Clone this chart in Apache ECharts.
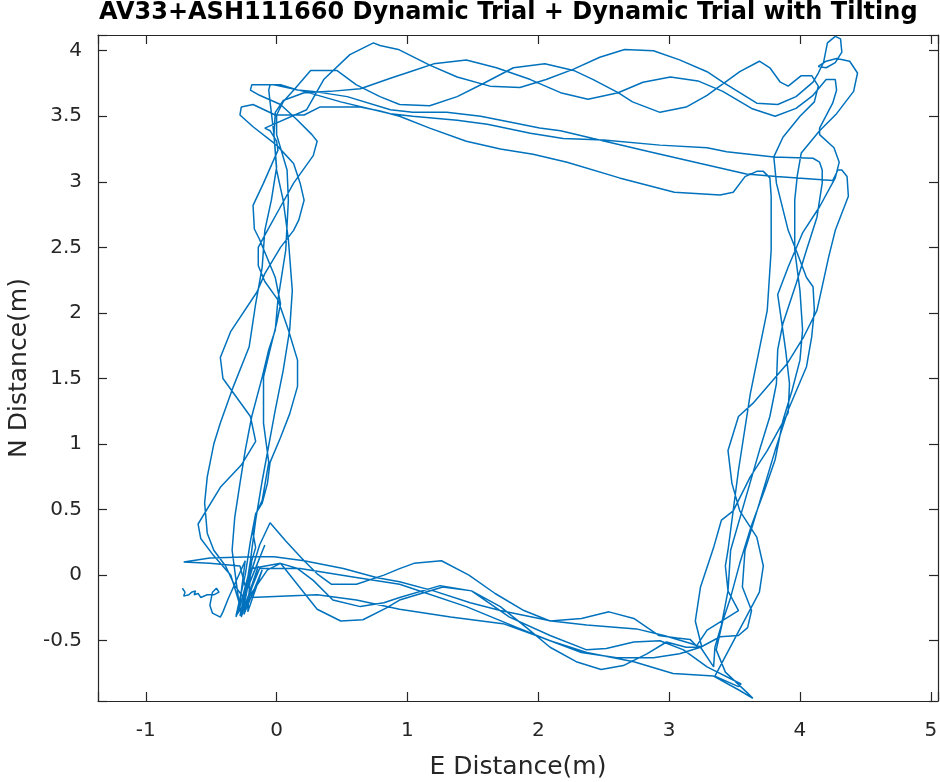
<!DOCTYPE html>
<html>
<head>
<meta charset="utf-8">
<script src="https://cdn.jsdelivr.net/npm/echarts@6/dist/echarts.min.js"></script>
<style>
html, body { margin: 0; padding: 0; background: #fff; }
#chart { width: 940px; height: 782px; }
</style>
</head>
<body>
<div id="chart"></div>
<script>
'use strict';

// trajectory as [E, N] in metres, one lap per array
const startPath = [[-0.72,-0.10],[-0.70,-0.13],[-0.71,-0.16],[-0.67,-0.15],[-0.65,-0.13],[-0.62,-0.12],[-0.63,-0.15],[-0.60,-0.14],[-0.58,-0.17],[-0.53,-0.15],[-0.48,-0.15],[-0.44,-0.13],[-0.46,-0.10],[-0.49,-0.13],[-0.51,-0.23],[-0.49,-0.29],[-0.43,-0.32],[-0.41,-0.28],[-0.37,-0.18],[-0.24,0.11],[-0.29,-0.28],[-0.19,0.10],[-0.27,-0.32],[-0.14,0.07],[-0.25,-0.30],[-0.11,0.04],[-0.22,-0.28],[-0.20,0.02],[-0.31,-0.32],[-0.16,0.13],[-0.26,-0.19],[-0.09,0.23],[-0.23,-0.12],[-0.28,0.07]];

const lap1 = [[-0.51,0.09],[-0.71,0.10],[-0.51,0.13],[-0.18,0.14],[-0.02,0.14],[0.21,0.11],[0.51,0.05],[0.77,-0.02],[0.94,-0.05],[1.20,-0.12],[1.48,-0.21],[1.71,-0.27],[2.10,-0.35],[2.37,-0.38],[2.75,-0.41],[2.96,-0.46],[3.16,-0.52],[3.25,-0.55],[3.20,-0.35],[3.24,-0.09],[3.34,0.21],[3.40,0.42],[3.49,0.49],[3.62,0.75],[3.75,0.95],[3.91,1.24],[3.92,1.46],[3.89,1.72],[3.85,2.00],[3.83,2.14],[3.91,2.35],[4.02,2.61],[4.15,2.81],[4.27,3.03],[4.30,3.15],[4.26,3.26],[4.15,3.36],[4.15,3.41],[4.25,3.60],[4.28,3.70],[4.27,3.78],[4.20,3.78],[4.10,3.66],[3.97,3.56],[3.81,3.50],[3.63,3.56],[3.41,3.69],[3.22,3.77],[3.01,3.80],[2.80,3.76],[2.61,3.68],[2.38,3.63],[2.17,3.68],[1.94,3.78],[1.68,3.87],[1.45,3.93],[1.20,3.90],[1.02,3.84],[0.87,3.79],[0.64,3.71],[0.41,3.69],[0.21,3.68],[0.05,3.62],[-0.01,3.53],[-0.02,3.36],[0.00,3.11],[-0.04,2.86],[-0.09,2.63],[-0.11,2.35],[-0.16,2.07],[-0.21,1.74],[-0.33,1.44],[-0.43,1.16],[-0.48,1.00],[-0.53,0.75],[-0.55,0.55],[-0.53,0.32],[-0.48,0.19],[-0.39,0.07],[-0.32,-0.08],[-0.24,-0.19]];

const lap2 = [[-0.21,-0.03],[-0.13,0.23],[-0.05,0.40],[0.07,0.26],[0.21,0.11],[0.31,0.01],[0.42,-0.07],[0.61,-0.07],[0.82,0.00],[0.94,0.05],[1.05,0.09],[1.26,0.11],[1.47,0.00],[1.67,-0.14],[1.89,-0.27],[2.09,-0.35],[2.33,-0.33],[2.54,-0.28],[2.73,-0.33],[2.92,-0.46],[3.06,-0.48],[3.16,-0.49],[3.21,-0.54],[3.29,-0.42],[3.53,-0.27],[3.45,-0.12],[3.43,0.07],[3.45,0.19],[3.53,0.80],[3.62,1.38],[3.75,2.02],[3.78,2.48],[3.78,2.89],[3.77,3.03],[3.72,3.08],[3.67,3.08],[3.58,3.04],[3.49,2.92],[3.39,2.90],[3.04,2.92],[2.62,3.03],[2.22,3.15],[1.96,3.21],[1.71,3.25],[1.45,3.31],[1.17,3.41],[0.94,3.50],[0.79,3.54],[0.64,3.57],[0.33,3.57],[0.21,3.51],[-0.01,3.51],[-0.18,3.59],[-0.27,3.57],[-0.28,3.51],[-0.18,3.42],[0.00,3.28],[0.13,3.14],[0.18,2.99],[0.21,2.86],[0.17,2.71],[0.13,2.63],[0.03,2.50],[-0.09,2.30],[-0.15,2.16],[-0.35,1.86],[-0.43,1.66],[-0.41,1.50],[-0.20,1.21],[-0.16,1.02],[-0.27,0.84],[-0.43,0.67],[-0.60,0.39],[-0.58,0.28],[-0.49,0.16],[-0.35,0.00],[-0.28,-0.23]];

const lap3 = [[-0.19,0.05],[0.03,0.09],[0.16,0.05],[0.28,-0.04],[0.43,-0.19],[0.64,-0.24],[0.82,-0.21],[0.94,-0.17],[1.25,-0.08],[1.49,-0.12],[1.71,-0.24],[1.91,-0.40],[2.09,-0.55],[2.29,-0.66],[2.48,-0.72],[2.65,-0.69],[2.83,-0.60],[2.98,-0.51],[3.13,-0.55],[3.24,-0.55],[3.39,-0.47],[3.53,-0.46],[3.60,-0.40],[3.63,-0.27],[3.56,-0.09],[3.58,0.19],[3.69,0.55],[3.81,0.95],[3.91,1.26],[4.05,1.59],[4.09,1.82],[4.11,2.02],[4.10,2.20],[4.05,2.27],[3.97,2.48],[3.91,2.63],[3.82,2.99],[3.80,3.19],[3.87,3.34],[4.00,3.50],[4.11,3.61],[4.14,3.73],[4.09,3.81],[4.01,3.81],[3.91,3.73],[3.85,3.76],[3.77,3.87],[3.69,3.92],[3.54,3.84],[3.29,3.66],[3.13,3.57],[2.93,3.53],[2.72,3.61],[2.61,3.68],[2.42,3.78],[2.27,3.85],[2.05,3.90],[1.81,3.87],[1.58,3.75],[1.38,3.65],[1.17,3.58],[0.94,3.59],[0.79,3.65],[0.61,3.74],[0.46,3.85],[0.26,3.85],[0.14,3.71],[0.05,3.61],[0.00,3.51],[0.00,3.36],[0.08,3.09],[0.09,2.86],[0.07,2.48],[0.01,2.10],[-0.01,1.87],[-0.06,1.72],[-0.11,1.51],[-0.19,1.21],[-0.24,0.95],[-0.28,0.70],[-0.32,0.44],[-0.34,0.19],[-0.31,-0.04],[-0.28,-0.27]];

const lap4 = [[-0.20,-0.17],[0.31,-0.15],[0.61,-0.19],[0.94,-0.26],[1.33,-0.32],[1.73,-0.37],[2.01,-0.47],[2.33,-0.59],[2.60,-0.63],[2.88,-0.63],[3.08,-0.60],[3.24,-0.55],[3.34,-0.70],[3.35,-0.55],[3.40,-0.38],[3.45,-0.12],[3.47,0.19],[3.58,0.57],[3.69,0.95],[3.77,1.21],[3.82,1.46],[3.83,1.72],[3.87,1.92],[3.97,2.22],[4.05,2.48],[4.13,2.73],[4.15,2.86],[4.17,2.99],[4.17,3.09],[4.15,3.15],[4.10,3.18],[3.80,3.19],[3.44,3.23],[3.29,3.26],[2.93,3.28],[2.50,3.32],[2.19,3.33],[1.94,3.37],[1.61,3.44],[1.38,3.47],[1.04,3.50],[0.87,3.52],[0.49,3.61],[0.21,3.69],[-0.02,3.74],[-0.19,3.74],[-0.20,3.70],[-0.13,3.66],[0.03,3.59],[0.16,3.47],[0.27,3.36],[0.31,3.31],[0.28,3.20],[0.13,2.99],[0.03,2.81],[-0.07,2.63],[-0.14,2.50],[-0.14,2.36],[-0.09,2.24],[0.01,2.10],[0.09,1.87],[0.16,1.64],[0.16,1.44],[0.10,1.23],[0.03,1.05],[-0.05,0.86],[-0.07,0.70],[-0.11,0.55],[-0.16,0.47],[-0.20,0.26],[-0.24,0.00],[-0.31,-0.31]];

const lap5 = [[-0.07,0.04],[0.03,0.09],[0.31,-0.26],[0.49,-0.35],[0.66,-0.34],[0.84,-0.25],[0.94,-0.19],[1.27,-0.09],[1.49,-0.12],[1.78,-0.32],[2.09,-0.46],[2.37,-0.57],[2.52,-0.56],[2.73,-0.51],[2.93,-0.50],[3.11,-0.57],[3.29,-0.70],[3.55,-0.83],[3.53,-0.85],[3.35,-0.77],[3.69,-0.13],[3.72,0.07],[3.67,0.29],[3.54,0.49],[3.48,0.70],[3.45,0.95],[3.53,1.21],[3.64,1.31],[3.77,1.46],[3.90,1.61],[4.03,1.82],[4.13,2.02],[4.22,2.43],[4.27,2.63],[4.37,2.89],[4.36,3.04],[4.32,3.09],[4.29,3.09],[4.25,3.01],[3.82,3.04],[3.59,3.06],[3.24,3.14],[2.85,3.23],[2.42,3.33],[2.17,3.39],[2.01,3.41],[1.81,3.45],[1.56,3.50],[1.30,3.53],[1.04,3.53],[0.87,3.55],[0.54,3.65],[0.28,3.69],[0.16,3.70],[0.03,3.74],[-0.05,3.74],[-0.06,3.70],[-0.05,3.61],[-0.02,3.36],[0.00,3.09],[0.05,2.86],[0.09,2.56],[0.12,2.17],[0.10,1.87],[0.05,1.56],[-0.01,1.26],[-0.06,0.99],[-0.11,0.72],[-0.16,0.42],[-0.20,0.11],[-0.26,-0.27]];

const lap6 = [[-0.13,0.05],[0.18,0.05],[0.56,-0.01],[0.94,-0.07],[1.45,-0.24],[1.84,-0.40],[2.09,-0.50],[2.37,-0.59],[2.73,-0.66],[3.03,-0.75],[3.34,-0.77],[3.54,-0.88],[3.64,-0.94],[3.60,-0.90],[3.43,-0.74],[3.36,-0.57],[3.41,-0.35],[3.47,-0.17],[3.54,0.09],[3.63,0.38],[3.73,0.65],[3.81,0.88],[3.87,1.18],[3.94,1.41],[4.00,1.64],[4.02,1.87],[4.00,2.17],[3.96,2.48],[3.96,2.86],[3.98,3.05],[4.01,3.22],[4.15,3.39],[4.28,3.52],[4.41,3.69],[4.44,3.83],[4.38,3.92],[4.28,3.94],[4.20,3.92],[4.14,3.88],[4.20,3.87],[4.27,3.91],[4.32,3.99],[4.31,4.09],[4.27,4.11],[4.21,4.06],[4.18,3.91],[4.14,3.83],[4.10,3.76],[3.97,3.65],[3.83,3.59],[3.67,3.60],[3.41,3.76],[3.29,3.84],[3.08,3.93],[2.88,4.00],[2.66,4.01],[2.47,3.95],[2.27,3.86],[2.06,3.78],[1.86,3.72],[1.63,3.73],[1.38,3.80],[1.17,3.89],[0.93,4.01],[0.79,4.04],[0.74,4.06],[0.56,3.97],[0.36,3.78],[0.23,3.55],[-0.09,3.41],[-0.05,3.39],[0.00,3.31],[0.01,3.24],[-0.10,2.99],[-0.18,2.82],[-0.17,2.64],[-0.13,2.56],[-0.01,2.27],[0.03,2.07],[0.00,1.92],[-0.05,1.72],[-0.10,1.51],[-0.10,1.16],[-0.06,0.86],[-0.11,0.57],[-0.16,0.46],[-0.18,0.32],[-0.16,0.21],[-0.19,0.11],[-0.24,-0.12],[-0.28,-0.31]];

// axis limits (matlab style box)
const xLim = [-1.365, 5.055];
const yLim = [-0.96, 4.12];

const chart = echarts.init(document.getElementById('chart'));

const path = [].concat(startPath, lap1, lap2, lap3, lap4, lap5, lap6);

const axisColor = '#262626';
const fontName = 'DejaVu Sans';

const xLabel = (v) => Math.abs(v - Math.round(v)) < 1e-6 ? String(Math.round(v)) : '';
const yLabel = (v) => Math.abs(v * 2 - Math.round(v * 2)) < 1e-6 ? String(Math.round(v * 10) / 10) : '';

// build one side of the box
function boxAxis(pos, lim, split, fmt, name) {
    const isMain = (pos === 'bottom' || pos === 'left');
    const hsh = {
        type: 'value',
        position: pos,
        min: lim[0],
        max: lim[1],
        splitNumber: split,
        axisLine: { show: true, onZero: false, lineStyle: { color: axisColor, width: 1.2 } },
        axisTick: { show: true, inside: true, length: 9, lineStyle: { color: axisColor, width: 1.2 } },
        splitLine: { show: false },
        axisLabel: { show: false }
    };
    if (isMain) {
        hsh.axisLabel = {
            show: true,
            formatter: fmt,
            margin: pos === 'bottom' ? 20 : 16,
            fontFamily: fontName,
            fontSize: 20,
            color: axisColor
        };
        hsh.name = name;
        hsh.nameLocation = 'middle';
        hsh.nameGap = pos === 'bottom' ? 54 : 62;
        hsh.nameTextStyle = { fontFamily: fontName, fontSize: 25, color: axisColor };
    }
    return hsh;
}

const option = {
    animation: false,
    title: {
        text: 'AV33+ASH111660 Dynamic Trial + Dynamic Trial with Tilting',
        left: 99,
        top: 1,
        padding: 0,
        textStyle: { fontFamily: fontName, fontWeight: 'bold', fontSize: 24, color: '#000' }
    },
    grid: {
        left: 98,
        right: 2,
        top: 35,
        bottom: 81,
        containLabel: false,
        outerBoundsMode: 'none'
    },
    xAxis: [
        boxAxis('bottom', xLim, 6, xLabel, 'E Distance(m)'),
        boxAxis('top', xLim, 6, xLabel)
    ],
    yAxis: [
        boxAxis('left', yLim, 10, yLabel, 'N Distance(m)'),
        boxAxis('right', yLim, 10, yLabel)
    ],
    series: [{
        type: 'line',
        xAxisIndex: 0,
        yAxisIndex: 0,
        data: path,
        symbol: 'none',
        showSymbol: false,
        clip: true,
        lineStyle: { color: '#0072BD', width: 1.5 }
    }]
};

chart.setOption(option);
</script>
</body>
</html>
